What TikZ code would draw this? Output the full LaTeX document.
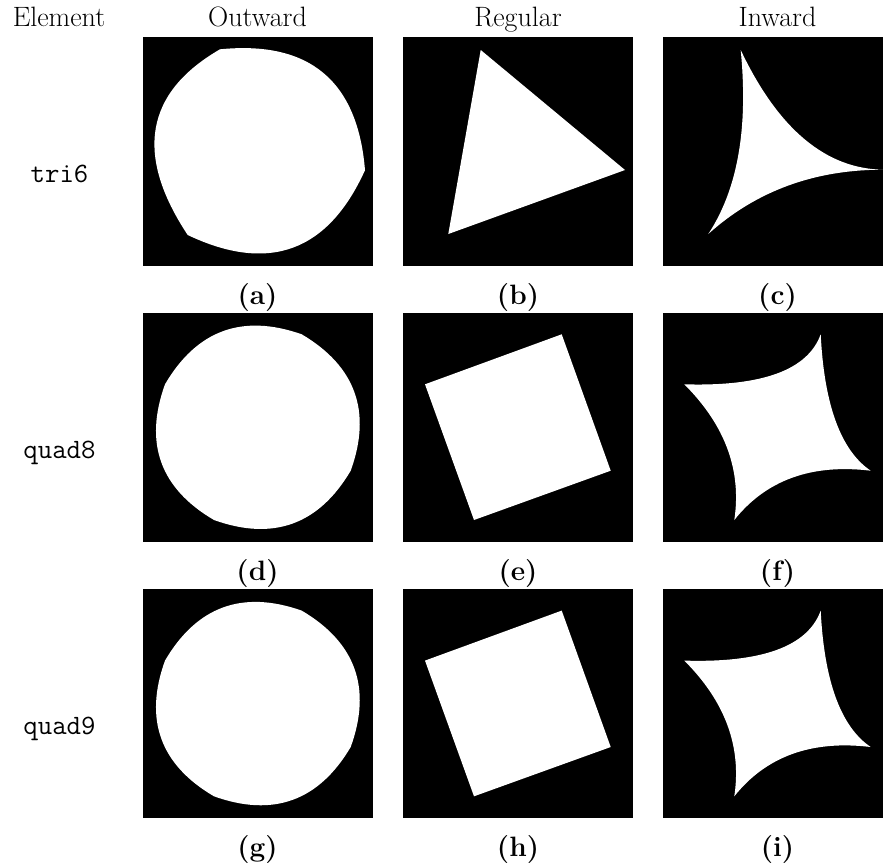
\documentclass[tikz,border=0pt]{standalone}
\usetikzlibrary{calc}
% shape outlines, in panel-local coordinates (origin at the panel's top-left)
\newcommand\triOut{\fill[white] (77,12.6) .. controls (166.3,3.7) and (214.7,44.0) .. (222,133.5)
  .. controls (184.9,215.2) and (125.8,236.8) .. (44.7,198.3)
  .. controls (-8.6,117.8) and (2.1,55.9) .. (77,12.6) -- cycle;}
\newcommand\triReg{\fill[white] (77.7,13.3) -- (222,133.3) -- (45.3,197.3) -- cycle;}
\newcommand\triIn{\fill[white] (77.7,13.3) .. controls (115.4,92.8) and (163.4,132.7) .. (221.5,133)
  .. controls (151.8,132.7) and (93.1,154.2) .. (45.3,197.3)
  .. controls (74.6,152.8) and (85.4,91.5) .. (77.7,13.3) -- cycle;}
\newcommand\quadOut{\fill[white] (22,71.6) .. controls (53.8,17.4) and (99.4,0.73) .. (158.7,21.6)
  .. controls (212.7,53.5) and (229.0,99.0) .. (207.7,158)
  .. controls (175.7,212.1) and (130.1,228.5) .. (71,207.3)
  .. controls (17.1,175.7) and (0.73,130.4) .. (22,71.6) -- cycle;}
\newcommand\quadReg{\fill[white] (22,71.6) -- (158.7,21.6) -- (207.7,158) -- (71,207.3) -- cycle;}
\newcommand\quadIn{\fill[white] (21.3,71.6) .. controls (99.3,73.9) and (144.8,57.3) .. (157.7,21.6)
  .. controls (161.2,92.4) and (177.9,137.9) .. (207.7,158)
  .. controls (148.6,150.9) and (103.1,167.3) .. (71.3,207.3)
  .. controls (78.8,157.6) and (62.1,112.4) .. (21.3,71.6) -- cycle;}
\begin{document}
\begin{tikzpicture}[x=1pt,y=-1pt,
  txt/.style={anchor=base,inner sep=0pt,font=\fontsize{28}{34}\selectfont},
  head/.style={txt},
  elem/.style={txt,font=\fontsize{28}{34}\selectfont\ttfamily},
  tag/.style={txt,font=\fontsize{28}{34}\selectfont\bfseries},
  panel/.style={fill=black}]
\useasboundingbox (0,0) rectangle (883,865);
\clip (0,0) rectangle (883,865);

% column headers
\node[head] (hElem) at (59,26) {Element};
\node[head] (hOut) at (257.5,26) {Outward};
\node[head] (hReg) at (518,26) {Regular};
\node[head] (hIn) at (777.5,26) {Inward};

% element names
\node[elem] (eTri) at (59.5,182) {tri6};
\node[elem] (eQ8) at (59.5,458) {quad8};
\node[elem] (eQ9) at (59.5,734) {quad9};

% row 1: tri6
\begin{scope}[shift={(143,36.7)}]
  \fill[panel] (0,0) rectangle (229.5,229.3); \triOut
\end{scope}
\begin{scope}[shift={(403,36.7)}]
  \fill[panel] (0,0) rectangle (229.5,229.3); \triReg
\end{scope}
\begin{scope}[shift={(663,36.7)}]
  \fill[panel] (0,0) rectangle (229.5,229.3); \triIn
\end{scope}
\node[tag] (ta) at (257.5,304) {(a)};
\node[tag] (tb) at (518,304) {(b)};
\node[tag] (tc) at (777.5,304) {(c)};

% row 2: quad8
\begin{scope}[shift={(143,312.7)}]
  \fill[panel] (0,0) rectangle (229.5,229.3); \quadOut
\end{scope}
\begin{scope}[shift={(403,312.7)}]
  \fill[panel] (0,0) rectangle (229.5,229.3); \quadReg
\end{scope}
\begin{scope}[shift={(663,312.7)}]
  \fill[panel] (0,0) rectangle (229.5,229.3); \quadIn
\end{scope}
\node[tag] (td) at (257.5,580) {(d)};
\node[tag] (te) at (518,580) {(e)};
\node[tag] (tf) at (777.5,580) {(f)};

% row 3: quad9
\begin{scope}[shift={(143,589)}]
  \fill[panel] (0,0) rectangle (229.5,229.3); \quadOut
\end{scope}
\begin{scope}[shift={(403,589)}]
  \fill[panel] (0,0) rectangle (229.5,229.3); \quadReg
\end{scope}
\begin{scope}[shift={(663,589)}]
  \fill[panel] (0,0) rectangle (229.5,229.3); \quadIn
\end{scope}
\node[tag] (tg) at (257.5,856) {(g)};
\node[tag] (th) at (518,856) {(h)};
\node[tag] (ti) at (777.5,856) {(i)};
\end{tikzpicture}
\end{document}
